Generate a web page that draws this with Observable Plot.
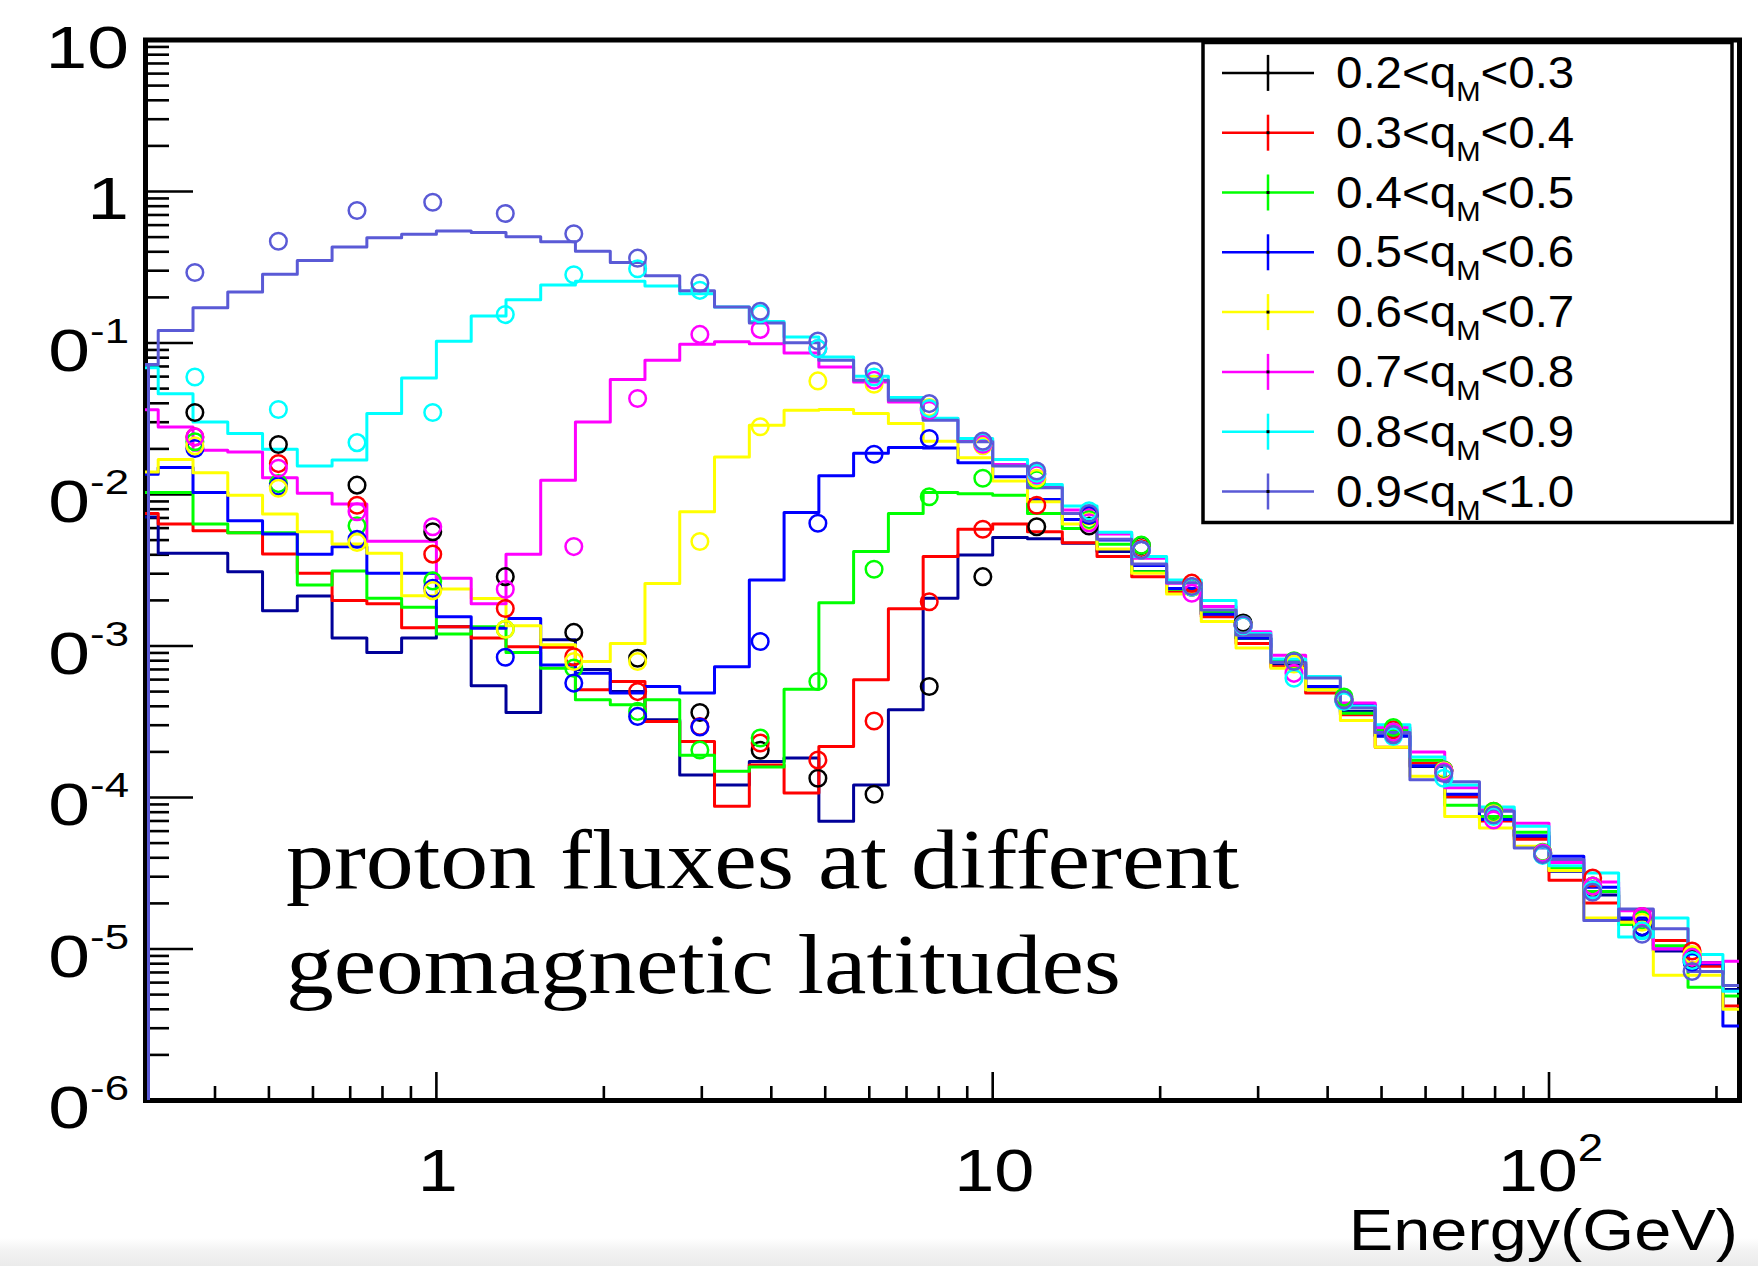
<!DOCTYPE html>
<html>
<head>
<meta charset="utf-8">
<script src="https://cdn.jsdelivr.net/npm/d3@7"></script>
<script src="https://cdn.jsdelivr.net/npm/@observablehq/plot@0.6"></script>
<style>
  html, body { margin: 0; padding: 0; background: #ffffff; }
  #chart { position: relative; width: 1758px; height: 1266px; overflow: hidden;
    background: linear-gradient(to bottom, #ffffff 0px, #ffffff 1238px, #f3f3f3 1250px, #ebebeb 1266px); }
  #chart svg { display: block; }
</style>
</head>
<body>
<div id="chart"></div>
<script>
// ---------------- data ----------------
const seriesLow  = ["0.2", "0.3", "0.4", "0.5", "0.6", "0.7", "0.8", "0.9"];
const seriesHigh = ["0.3", "0.4", "0.5", "0.6", "0.7", "0.8", "0.9", "1.0"];
const histColors   = ["#000099", "#ff0000", "#00ff00", "#0000ff", "#ffff00", "#ff00ff", "#00ffff", "#5a5ad6"];
const markerColors = ["#000000", "#ff0000", "#00ff00", "#0000ff", "#ffff00", "#ff00ff", "#00ffff", "#5a5ad6"];

// histogram bin edges (GeV)
const binEdges = [0.2738, 0.3162, 0.3652, 0.4217, 0.4870, 0.5623, 0.6494, 0.7499, 0.8660, 1.0,
  1.155, 1.334, 1.540, 1.778, 2.054, 2.371, 2.738, 3.162, 3.652, 4.217,
  4.870, 5.623, 6.494, 7.499, 8.660, 10.0, 11.55, 13.34, 15.40, 17.78,
  20.54, 23.71, 27.38, 31.62, 36.52, 42.17, 48.70, 56.23, 64.94, 74.99,
  86.60, 100, 115.5, 133.4, 154.0, 177.8, 205.4, 237.1];

// histogram contents per bin
const hist_q02 = [0.0071, 0.0041, 0.0041, 0.00309, 0.00171, 0.00214, 0.00113, 0.000906, 0.00113, 0.00134,
  0.000546, 0.000364, 0.0011, 0.0007, 0.0005, 0.000326, 0.000141, 0.000121, 0.000173, 0.000182,
  6.96e-5, 0.000121, 0.000379, 0.00207, 0.00399, 0.00521, 0.0051, 0.00476, 0.0042, 0.0031,
  0.0024, 0.00162, 0.00112, 0.00076, 0.00052, 0.00037, 0.000255, 0.00016, 0.000101, 7.2e-5,
  5.5e-5, 3.26e-5, 2.27e-5, 1.55e-5, 9.7e-6, 8.1e-6, 5.4e-6];
const hist_q03 = [0.0075, 0.00638, 0.00577, 0.0056, 0.00405, 0.00302, 0.0020, 0.0019, 0.00132, 0.00134,
  0.00113, 0.00099, 0.00098, 0.000514, 0.000583, 0.000318, 0.000234, 8.75e-5, 0.000164, 0.000107,
  0.000217, 0.000598, 0.00176, 0.00389, 0.00589, 0.00638, 0.00568, 0.0048, 0.00389, 0.00287,
  0.00228, 0.00156, 0.00104, 0.00073, 0.000489, 0.000352, 0.000215, 0.000169, 0.000101, 7.0e-5,
  5.3e-5, 2.84e-5, 2.01e-5, 1.5e-5, 1.14e-5, 7.7e-6, 4.2e-6];
const hist_q04 = [0.0103, 0.0103, 0.00638, 0.0056, 0.0056, 0.00253, 0.00313, 0.00207, 0.0018, 0.0012,
  0.00134, 0.000906, 0.000713, 0.000442, 0.000409, 0.000442, 0.00019, 0.000149, 0.000159, 0.000519,
  0.00193, 0.0042, 0.0075, 0.0103, 0.0101, 0.0099, 0.0075, 0.00597, 0.00469, 0.00309,
  0.00237, 0.00169, 0.00113, 0.00079, 0.000514, 0.00036, 0.00028, 0.000176, 8.9e-5, 7.5e-5,
  5.9e-5, 3.42e-5, 2.4e-5, 1.45e-5, 1.05e-5, 5.6e-6, 4.9e-6];
const hist_q05 = [0.0136, 0.01507, 0.0103, 0.00671, 0.00548, 0.00403, 0.00452, 0.00302, 0.00302, 0.00156,
  0.00131, 0.00152, 0.00075, 0.000662, 0.000489, 0.00054, 0.000489, 0.00073, 0.00273, 0.0076,
  0.0133, 0.0187, 0.0204, 0.0203, 0.0162, 0.0131, 0.00927, 0.00685, 0.0050, 0.0034,
  0.0024, 0.00162, 0.00113, 0.00078, 0.00054, 0.00041, 0.000255, 0.000162, 0.000105, 7.15e-5,
  5.6e-5, 4.09e-5, 2.56e-5, 1.6e-5, 1.0e-5, 8.0e-6, 3.1e-6];
const hist_q06 = [0.0141, 0.0170, 0.0139, 0.0099, 0.00743, 0.00568, 0.00471, 0.00409, 0.00215, 0.00238,
  0.00206, 0.00136, 0.00102, 0.00079, 0.00104, 0.00259, 0.00769, 0.0177, 0.0287, 0.036,
  0.0364, 0.0342, 0.0294, 0.0225, 0.0175, 0.01226, 0.00895, 0.00638, 0.00436, 0.00302,
  0.0022, 0.00145, 0.00097, 0.000714, 0.000514, 0.000322, 0.000215, 0.000138, 7.5e-5, 6.3e-5,
  4.76e-5, 3.3e-5, 1.6e-5, 1.5e-5, 6.7e-6, 6.7e-6, 4.0e-6];
const hist_q07 = [0.0363, 0.0279, 0.0196, 0.0191, 0.0129, 0.0102, 0.00865, 0.00491, 0.00491, 0.0028,
  0.0019, 0.00403, 0.0124, 0.0301, 0.0574, 0.0769, 0.098, 0.102, 0.099, 0.0859,
  0.0695, 0.0553, 0.0408, 0.0317, 0.0228, 0.0158, 0.0113, 0.0079, 0.00548, 0.0038,
  0.0026, 0.00182, 0.00124, 0.00087, 0.00062, 0.00042, 0.00029, 0.0002, 0.000116, 8.3e-5,
  6.77e-5, 3.73e-5, 2.77e-5, 1.79e-5, 1.0e-5, 8.1e-6, 8.3e-6];
const hist_q08 = [0.0687, 0.0463, 0.0301, 0.0253, 0.0199, 0.0154, 0.0169, 0.0342, 0.0588, 0.1026,
  0.1507, 0.193, 0.241, 0.256, 0.256, 0.2376, 0.2117, 0.1727, 0.1384, 0.1096,
  0.0809, 0.0603, 0.0436, 0.0319, 0.0234, 0.0170, 0.01166, 0.0084, 0.00563, 0.00389,
  0.00273, 0.0020, 0.00121, 0.00082, 0.00063, 0.0004, 0.000302, 0.000185, 0.000121, 8.65e-5,
  6.45e-5, 3.55e-5, 3.18e-5, 1.2e-5, 1.6e-5, 9.2e-6, 5.27e-6];
const hist_q09 = [0.072, 0.121, 0.171, 0.217, 0.284, 0.351, 0.431, 0.495, 0.523, 0.548,
  0.537, 0.503, 0.466, 0.404, 0.340, 0.278, 0.221, 0.173, 0.1355, 0.1005,
  0.0769, 0.0568, 0.0419, 0.0309, 0.0223, 0.0154, 0.0111, 0.0075, 0.00506, 0.00348,
  0.00262, 0.00173, 0.00118, 0.000777, 0.000614, 0.000389, 0.000269, 0.000131, 0.000127, 8.1e-5,
  4.64e-5, 3.9e-5, 1.54e-5, 1.84e-5, 1.36e-5, 7.1e-6, 5.75e-6];

// data points (open circles)
const pointEnergies = [0.368, 0.52, 0.72, 0.985, 1.33, 1.766, 2.30, 2.976, 3.82, 4.85,
  6.12, 7.69, 9.6, 12.0, 14.9, 18.5, 22.8, 28.2, 34.8, 42.8,
  52.5, 64.7, 79.5, 97.4, 119.8, 147, 180.8];
const pts_q02 = [0.0348, 0.0214, 0.01153, 0.00568, 0.00287, 0.00123, 0.00083, 0.000364, 0.000205, 0.000134,
  0.000105, 0.00054, 0.00287, 0.00612, 0.0062, 0.0046, 0.00245, 0.00142, 0.00079, 0.00044,
  0.00027, 0.00015, 7.8e-5, 4.3e-5, 2.6e-5, 1.4e-5, 8.6e-6];
const pts_q03 = [0.024, 0.016, 0.0085, 0.00404, 0.00177, 0.00085, 0.0005, 0.000294, 0.000229, 0.000177,
  0.00032, 0.00196, 0.0059, 0.0085, 0.0073, 0.0044, 0.0026, 0.00137, 0.00078, 0.00044,
  0.00028, 0.000152, 8.1e-5, 4.3e-5, 2.94e-5, 1.64e-5, 9.7e-6];
const pts_q04 = [0.0223, 0.0118, 0.00622, 0.00269, 0.00129, 0.000714, 0.00037, 0.000206, 0.000247, 0.000583,
  0.00321, 0.00966, 0.0128, 0.0125, 0.0068, 0.00463, 0.00245, 0.00138, 0.0008, 0.00046,
  0.00029, 0.000152, 8.1e-5, 4.35e-5, 2.6e-5, 1.55e-5, 9.0e-6];
const pts_q05 = [0.0201, 0.01135, 0.00506, 0.0024, 0.000843, 0.000569, 0.000343, 0.000292, 0.00107, 0.00646,
  0.01845, 0.0234, 0.0215, 0.0137, 0.0073, 0.0043, 0.00245, 0.00136, 0.00078, 0.00044,
  0.00027, 0.00015, 7.6e-5, 4.25e-5, 2.45e-5, 1.4e-5, 8.2e-6];
const pts_q06 = [0.021, 0.011, 0.00483, 0.00232, 0.00129, 0.00079, 0.00079, 0.00489, 0.028, 0.0562,
  0.0534, 0.0375, 0.021, 0.0128, 0.0066, 0.0043, 0.00245, 0.00136, 0.00076, 0.00044,
  0.00027, 0.00015, 7.8e-5, 4.3e-5, 2.6e-5, 1.5e-5, 9.2e-6];
const pts_q07 = [0.024, 0.0149, 0.0077, 0.00613, 0.00237, 0.00453, 0.043, 0.114, 0.123, 0.092,
  0.0568, 0.036, 0.0215, 0.0135, 0.0065, 0.0043, 0.00223, 0.00136, 0.00066, 0.00044,
  0.00027, 0.000148, 7.1e-5, 4.3e-5, 2.6e-5, 1.64e-5, 8.8e-6];
const pts_q08 = [0.0597, 0.0364, 0.022, 0.0348, 0.154, 0.282, 0.309, 0.2226, 0.156, 0.0918,
  0.0597, 0.0369, 0.0222, 0.0138, 0.0078, 0.0043, 0.00245, 0.00136, 0.000612, 0.00043,
  0.000253, 0.000134, 7.5e-5, 4.15e-5, 2.45e-5, 1.32e-5, 8.4e-6];
const pts_q09 = [0.292, 0.47, 0.75, 0.85, 0.716, 0.526, 0.363, 0.249, 0.162, 0.103,
  0.0651, 0.0398, 0.0225, 0.0143, 0.0075, 0.0043, 0.00247, 0.00138, 0.00079, 0.000441,
  0.00026, 0.000144, 7.7e-5, 4.2e-5, 2.37e-5, 1.25e-5, 7.1e-6];

// axes
const xDomain = [0.3, 220];
const yDomain = [1e-6, 10];
const xMajorTicks = [1, 10, 100];
const xMinorTicks = [0.4, 0.5, 0.6, 0.7, 0.8, 0.9, 2, 3, 4, 5, 6, 7, 8, 9,
  20, 30, 40, 50, 60, 70, 80, 90, 200];
const yMajorTicks = [1e-6, 1e-5, 1e-4, 1e-3, 1e-2, 1e-1, 1, 10];
const xTickLabelValues = [1, 10, 100];
const xTickLabelBase = ["1", "10", "10"];
const xTickLabelExp = ["", "", "2"];
const yTickLabelValues = [10, 1, 1e-1, 1e-2, 1e-3, 1e-4, 1e-5, 1e-6];
const yTickLabelBase = ["10", "1", "0", "0", "0", "0", "0", "0"];
const yTickLabelExp = ["", "", "-1", "-2", "-3", "-4", "-5", "-6"];
const xTitle = "Energy(GeV)";
const noteLines = ["proton fluxes at different", "geomagnetic latitudes"];

// ---------------- build ----------------
const hists = [hist_q02, hist_q03, hist_q04, hist_q05, hist_q06, hist_q07, hist_q08, hist_q09];
const pts = [pts_q02, pts_q03, pts_q04, pts_q05, pts_q06, pts_q07, pts_q08, pts_q09];

const W = 1758, H = 1266;
const frameL = 145, frameR = 1739, frameT = 39.5, frameB = 1100;
const PW = frameR - frameL, PH = frameB - frameT;

// minor y ticks 2..9 x each decade
const yMinorTicks = [];
for (let d = 0; d < yMajorTicks.length - 1; d++)
  for (let m = 2; m <= 9; m++) yMinorTicks.push(m * yMajorTicks[d]);

const marks = [];
marks.push(Plot.frame({stroke: "#000", strokeWidth: 5}));
marks.push(Plot.tickY(yMajorTicks, {y: d => d, insetRight: PW - 48, stroke: "#000", strokeWidth: 2.6}));
marks.push(Plot.tickY(yMinorTicks, {y: d => d, insetRight: PW - 24, stroke: "#000", strokeWidth: 2.6}));
marks.push(Plot.tickX(xMajorTicks, {x: d => d, insetTop: PH - 28, stroke: "#000", strokeWidth: 2.6}));
marks.push(Plot.tickX(xMinorTicks, {x: d => d, insetTop: PH - 14, stroke: "#000", strokeWidth: 2.6}));

hists.forEach((vals, s) => {
  const rows = vals.map((v, i) => ({x: i === 0 ? xDomain[0] : binEdges[i], y: v}));
  rows.push({x: binEdges[vals.length], y: vals[vals.length - 1]});
  marks.push(Plot.line(rows, {x: "x", y: "y", curve: "step-after", stroke: histColors[s],
    strokeWidth: 3, clip: true}));
  marks.push(Plot.ruleX([vals[0]], {x: () => xDomain[0], y1: () => yDomain[0], y2: d => d,
    stroke: histColors[s], strokeWidth: 3, dx: 3}));
});
pts.forEach((vals, s) => {
  const rows = vals.map((v, i) => ({x: pointEnergies[i], y: v}));
  marks.push(Plot.dot(rows, {x: "x", y: "y", r: 8.3, stroke: markerColors[s], strokeWidth: 2.5, fill: "none"}));
});

const plot = Plot.plot({
  width: W, height: H,
  marginLeft: frameL, marginRight: W - frameR, marginTop: frameT, marginBottom: H - frameB,
  style: {background: "transparent", overflow: "visible"},
  x: {type: "log", domain: xDomain, axis: null},
  y: {type: "log", domain: yDomain, axis: null},
  marks
});
document.getElementById("chart").appendChild(plot);

// ---------------- labels (positioned through Plot's scales) ----------------
function scaleFn(sc) { return sc.apply ? (v) => sc.apply(v) : d3.scaleLog(sc.domain, sc.range); }
const sx = scaleFn(plot.scale("x"));
const sy = scaleFn(plot.scale("y"));
const SANS = "'Liberation Sans', Arial, Helvetica, sans-serif";
const SERIF = "'Liberation Serif', 'Times New Roman', serif";
const svg = d3.select(plot);

// y tick labels
yTickLabelValues.forEach((v, i) => {
  const g = svg.append("g").attr("transform", `translate(129,${sy(v) + 28}) scale(1.25,1)`);
  const t = g.append("text").attr("text-anchor", "end").attr("font-family", SANS)
    .attr("font-size", 60).attr("fill", "#000");
  t.append("tspan").text(yTickLabelBase[i]);
  if (yTickLabelExp[i]) t.append("tspan").attr("font-size", 35).attr("dy", -28).text(yTickLabelExp[i]);
});

// x tick labels
xTickLabelValues.forEach((v, i) => {
  const g = svg.append("g").attr("transform", `translate(${sx(v) + 2},1191) scale(1.2,1)`);
  const t = g.append("text").attr("text-anchor", "middle").attr("font-family", SANS)
    .attr("font-size", 60).attr("fill", "#000");
  t.append("tspan").text(xTickLabelBase[i]);
  if (xTickLabelExp[i]) t.append("tspan").attr("font-size", 38).attr("dy", -30).text(xTickLabelExp[i]);
});

// x axis title
svg.append("g").attr("transform", "translate(1738,1250) scale(1.15,1)")
  .append("text").attr("text-anchor", "end").attr("font-family", SANS).attr("font-size", 58)
  .attr("fill", "#000").text(xTitle);

// annotation inside the frame
const noteWidths = [953, 835];
noteLines.forEach((line, i) => {
  svg.append("text").attr("x", 286).attr("y", 888 + i * 105).attr("text-anchor", "start")
    .attr("font-family", SERIF).attr("font-size", 84).attr("fill", "#000")
    .attr("textLength", noteWidths[i]).attr("lengthAdjust", "spacingAndGlyphs")
    .text(line);
});

// legend
const lg = svg.append("g");
lg.append("rect").attr("x", 1203).attr("y", 42.5).attr("width", 529).attr("height", 480)
  .attr("fill", "#fff").attr("stroke", "#000").attr("stroke-width", 3.5);
seriesLow.forEach((lo, i) => {
  const yc = 72.9 + 59.8 * i;
  lg.append("line").attr("x1", 1222).attr("x2", 1314).attr("y1", yc).attr("y2", yc)
    .attr("stroke", markerColors[i]).attr("stroke-width", 2.5);
  lg.append("line").attr("x1", 1268).attr("x2", 1268).attr("y1", yc - 18).attr("y2", yc + 18)
    .attr("stroke", markerColors[i]).attr("stroke-width", 2.5);
  lg.append("rect").attr("x", 1266.5).attr("y", yc - 1.5).attr("width", 3).attr("height", 3).attr("fill", "#000");
  const g = lg.append("g").attr("transform", `translate(1336,${yc + 15}) scale(1.08,1)`);
  const t = g.append("text").attr("text-anchor", "start").attr("font-family", SANS)
    .attr("font-size", 44).attr("fill", "#000");
  t.append("tspan").text(lo + "<q");
  t.append("tspan").attr("font-size", 27).attr("dy", 13).text("M");
  t.append("tspan").attr("dy", -13).text("<" + seriesHigh[i]);
});
</script>
</body>
</html>
